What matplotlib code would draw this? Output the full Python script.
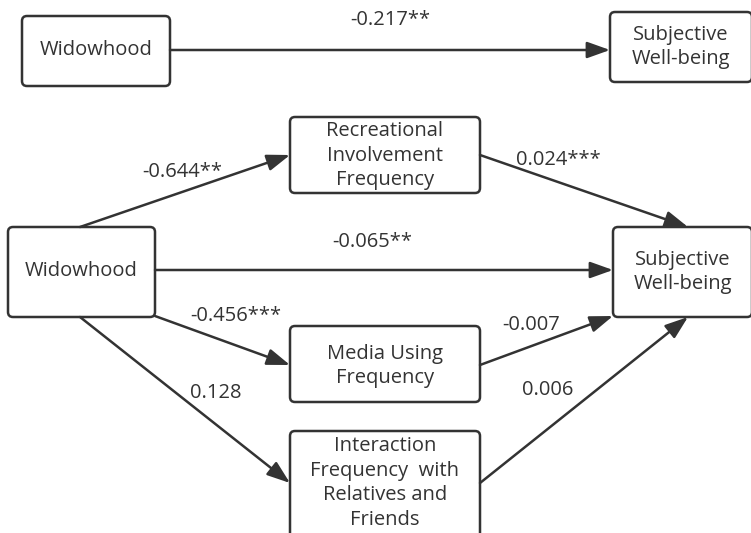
import matplotlib.pyplot as plt
from matplotlib.patches import FancyBboxPatch

plt.rcParams['font.family'] = ['Open Sans', 'DejaVu Sans']

# node labels
node_names = ["Widowhood", "Subjective\nWell-being",
              "Recreational\nInvolvement\nFrequency", "Widowhood",
              "Subjective\nWell-being", "Media Using\nFrequency",
              "Interaction\nFrequency  with\nRelatives and\nFriends"]

# path coefficients
coef_labels = ["-0.217**", "-0.644**", "0.024***", "-0.065**",
               "-0.456***", "0.128", "-0.007", "0.006"]

# box layout (pixel space): x0, y0, x1, y1
boxes = [(22, 16, 170, 86), (610, 12, 752, 82),
         (290, 117, 480, 193), (8, 227, 155, 317),
         (613, 227, 752, 317), (290, 326, 480, 402),
         (290, 431, 480, 545)]
text_y = [50, 47, 156, 271, 272, 366, 483]

# arrows: start, end, label position
arrows = [((170, 50), (610, 50), (390, 20)),
          ((80, 227), (290, 155), (182, 172)),
          ((480, 155), (688, 227), (558, 160)),
          ((155, 270), (613, 270), (372, 242)),
          ((155, 316), (290, 365), (236, 316)),
          ((80, 317), (290, 483), (216, 393)),
          ((480, 365), (613, 316), (531, 325)),
          ((480, 483), (688, 317), (548, 390))]

ink = '#333333'
fig = plt.figure(figsize=(7.51, 5.33), dpi=100)
ax = fig.add_axes([0, 0, 1, 1])
ax.set_xlim(0, 751)
ax.set_ylim(533, 0)
ax.axis('off')

for (x0, y0, x1, y1), name, ty in zip(boxes, node_names, text_y):
    ax.add_patch(FancyBboxPatch((x0, y0), x1 - x0, y1 - y0,
                                boxstyle="round,pad=0,rounding_size=5",
                                fc='white', ec=ink, lw=1.8))
    ax.text((x0 + x1) / 2, ty, name, ha='center', va='center',
            fontsize=14.5, color='#333333', linespacing=1.3)

for (start, end, lpos), lab in zip(arrows, coef_labels):
    ax.annotate("", xy=end, xytext=start,
                arrowprops=dict(arrowstyle='-|>,head_length=1.4,head_width=0.5',
                                color=ink, lw=1.8, shrinkA=0, shrinkB=0))
    ax.text(lpos[0], lpos[1], lab, ha='center', va='center',
            fontsize=14.5, color='#333333')

fig.savefig('out.png', dpi=100)
